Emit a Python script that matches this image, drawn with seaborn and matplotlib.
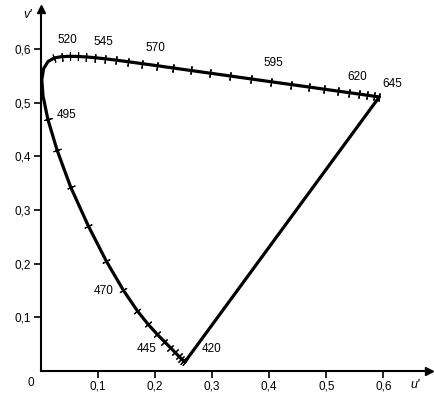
import numpy as np
import pandas as pd
import seaborn as sns
import matplotlib.pyplot as plt

# CIE 1976 u'v' spectral locus, 420-645 nm in 5 nm steps
wavelengths = [420, 425, 430, 435, 440, 445, 450, 455, 460, 465,
               470, 475, 480, 485, 490, 495, 500, 505, 510, 515,
               520, 525, 530, 535, 540, 545, 550, 555, 560, 565,
               570, 575, 580, 585, 590, 595, 600, 605, 610, 615,
               620, 625, 630, 635, 640, 645]
u_prime = [0.2522, 0.2496, 0.2461, 0.2411, 0.2347, 0.2266, 0.2161, 0.2033, 0.1877, 0.1690,
           0.1441, 0.1147, 0.0828, 0.0521, 0.0282, 0.0119, 0.0035, 0.0014, 0.0046, 0.0123,
           0.0231, 0.0360, 0.0501, 0.0643, 0.0792, 0.0953, 0.1127, 0.1319, 0.1531, 0.1766,
           0.2026, 0.2312, 0.2623, 0.2960, 0.3315, 0.3681, 0.4035, 0.4379, 0.4692, 0.4968,
           0.5203, 0.5399, 0.5565, 0.5709, 0.5830, 0.5929]
v_prime = [0.0169, 0.0191, 0.0226, 0.0279, 0.0350, 0.0437, 0.0549, 0.0688, 0.0871, 0.1119,
           0.1510, 0.2044, 0.2708, 0.3427, 0.4117, 0.4698, 0.5131, 0.5432, 0.5638, 0.5770,
           0.5837, 0.5861, 0.5868, 0.5865, 0.5856, 0.5841, 0.5821, 0.5796, 0.5766, 0.5732,
           0.5694, 0.5651, 0.5604, 0.5554, 0.5501, 0.5446, 0.5393, 0.5342, 0.5296, 0.5254,
           0.5219, 0.5190, 0.5165, 0.5143, 0.5125, 0.5111]

# wavelengths with a visible mark on the curve (none drawn 500-515 nm)
no_mark = [500, 505, 510, 515]

labelled = [420, 445, 470, 495, 520, 545, 570, 595, 620, 645]
label_offsets = {420: (27, 13), 445: (-24, -1), 470: (-20, -1), 495: (19, 4),
                 520: (13, 18), 545: (8, 16), 570: (-1, 18), 595: (22, 16),
                 620: (19, 14), 645: (13, 13)}

x_ticks = [0.1, 0.2, 0.3, 0.4, 0.5, 0.6]
y_ticks = [0.1, 0.2, 0.3, 0.4, 0.5, 0.6]

df = pd.DataFrame({'nm': wavelengths, 'u': u_prime, 'v': v_prime})

sns.set_style('white')
plt.rcParams['font.family'] = ['Liberation Sans', 'DejaVu Sans']
plt.rcParams['text.color'] = 'black'
plt.rcParams['xtick.color'] = 'black'
plt.rcParams['ytick.color'] = 'black'

fig = plt.figure(figsize=(4.35, 3.98), dpi=100)
ax = fig.add_axes([41 / 435, 27 / 398, 388 / 435, 362 / 398])
ax.set_xlim(0, 0.68)
ax.set_ylim(0, 0.675)

# spectral locus and purple line
sns.lineplot(data=df, x='u', y='v', sort=False, color='black', lw=2.3, ax=ax)
ends = df.iloc[[0, -1]]
sns.lineplot(data=ends, x='u', y='v', sort=False, color='black', lw=2.3, ax=ax)

# short perpendicular marks at each 5 nm step
fig.canvas.draw()
pix = ax.transData.transform(df[['u', 'v']].values)
dx = np.gradient(pix[:, 0])
dy = np.gradient(pix[:, 1])
angles = np.degrees(np.arctan2(dy, dx))
for nm, u, v, ang in zip(df['nm'], df['u'], df['v'], angles):
    if nm in no_mark:
        continue
    ax.plot(u, v, marker=(2, 2, ang), ms=6, mew=0.8, color='black', clip_on=False)

for nm in labelled:
    row = df[df['nm'] == nm].iloc[0]
    ax.annotate(str(nm), (row['u'], row['v']), xytext=label_offsets[nm],
                textcoords='offset pixels', ha='center', va='center', fontsize=8.5)

# axes with arrows
for side in ['top', 'right']:
    ax.spines[side].set_visible(False)
for side in ['left', 'bottom']:
    ax.spines[side].set_linewidth(1.5)
    ax.spines[side].set_color('black')
ax.plot(1, 0, '>', ms=6, color='black', transform=ax.transAxes, clip_on=False)
ax.plot(0, 1, '^', ms=6, color='black', transform=ax.transAxes, clip_on=False)

ax.set_xticks(x_ticks)
ax.set_yticks(y_ticks)
ax.set_xticklabels([f'{t:.1f}'.replace('.', ',') for t in x_ticks], fontsize=8.5)
ax.set_yticklabels([f'{t:.1f}'.replace('.', ',') for t in y_ticks], fontsize=8.5)
ax.tick_params(axis='both', direction='out', length=5, width=1.2, color='black',
               labelcolor='black', bottom=True, left=True, pad=2)
ax.set_xlabel('')
ax.set_ylabel('')

ax.text(-0.012, -0.012, '0', transform=ax.transData, ha='right', va='top', fontsize=8.5)
ax.text(415 / 435, 13 / 398, "u'", transform=fig.transFigure, ha='center', va='center',
        fontsize=9, style='italic')
ax.text(28 / 435, 383 / 398, "v'", transform=fig.transFigure, ha='center', va='center',
        fontsize=9, style='italic')

fig.savefig('out.png', dpi=100)
